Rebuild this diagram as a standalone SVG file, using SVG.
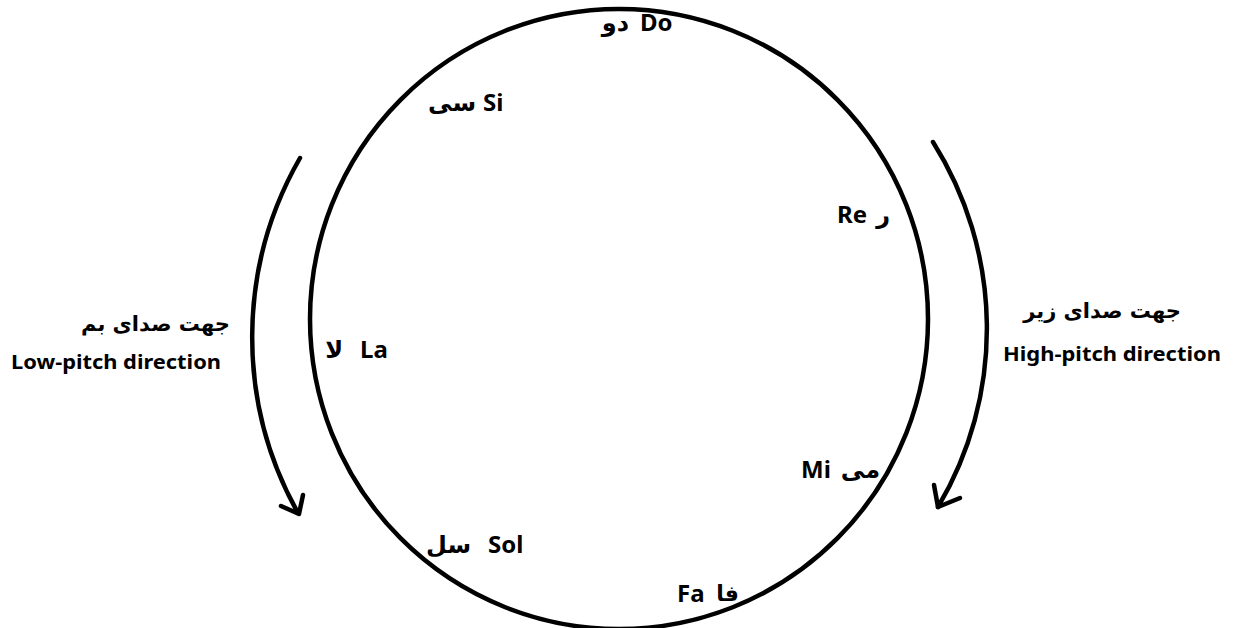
<svg xmlns="http://www.w3.org/2000/svg" width="1234" height="628" viewBox="0 0 1234 628">
<style>
.lat{font-family:"Noto Sans","Open Sans","Liberation Sans",sans-serif;font-weight:bold;font-size:24px;fill:#000}
.ar{font-family:"DejaVu Sans",sans-serif;font-weight:bold;font-size:24px;fill:#000}
.big{font-family:"DejaVu Sans",sans-serif;font-weight:bold;font-size:21px;fill:#000}
.eng{font-family:"Noto Sans","Open Sans","Liberation Sans",sans-serif;font-weight:bold;font-size:20px;fill:#000}
.ln{fill:none;stroke:#000;stroke-width:4.5;stroke-linecap:round;stroke-linejoin:round}
</style>
<rect width="1234" height="628" fill="#fff"/>
<g id="circle"><ellipse class="ln" cx="619" cy="319" rx="309" ry="310"/></g>
<g id="connectors">
<path class="ln" d="M300,158 A360,360 0 0 0 298,513"/>
<polyline class="ln" points="281,506 299,514 303,495"/>
<path class="ln" d="M933,142 A350,350 0 0 1 938,507"/>
<polyline class="ln" points="934,485 938,507 960,498"/>
</g>
<g id="do"><text class="ar" x="629" y="31" text-anchor="end">دو</text><text class="lat" x="640" y="31">Do</text></g>
<g id="si"><text class="ar" x="476" y="111" text-anchor="end">سی</text><text class="lat" x="483" y="111">Si</text></g>
<g id="re"><text class="lat" x="837" y="223">Re</text><text class="ar" x="890" y="223" text-anchor="end">ر</text></g>
<g id="la"><text class="ar" x="343" y="358" text-anchor="end">لا</text><text class="lat" x="360" y="358">La</text></g>
<g id="mi"><text class="lat" x="801" y="478">Mi</text><text class="ar" x="880" y="478" text-anchor="end">می</text></g>
<g id="sol"><text class="ar" x="471" y="553" text-anchor="end">سل</text><text class="lat" x="488" y="553">Sol</text></g>
<g id="fa"><text class="lat" x="677" y="602">Fa</text><text class="ar" x="739" y="601" text-anchor="end" style="font-size:22px">فا</text></g>
<g id="low"><text class="big" x="230" y="331" text-anchor="end">جهت صدای بم</text><text class="eng" x="11" y="369" textLength="210" lengthAdjust="spacingAndGlyphs">Low-pitch direction</text></g>
<g id="high"><text class="big" x="1181" y="318" text-anchor="end">جهت صدای زیر</text><text class="eng" x="1003" y="361" textLength="218" lengthAdjust="spacingAndGlyphs">High-pitch direction</text></g>
</svg>
